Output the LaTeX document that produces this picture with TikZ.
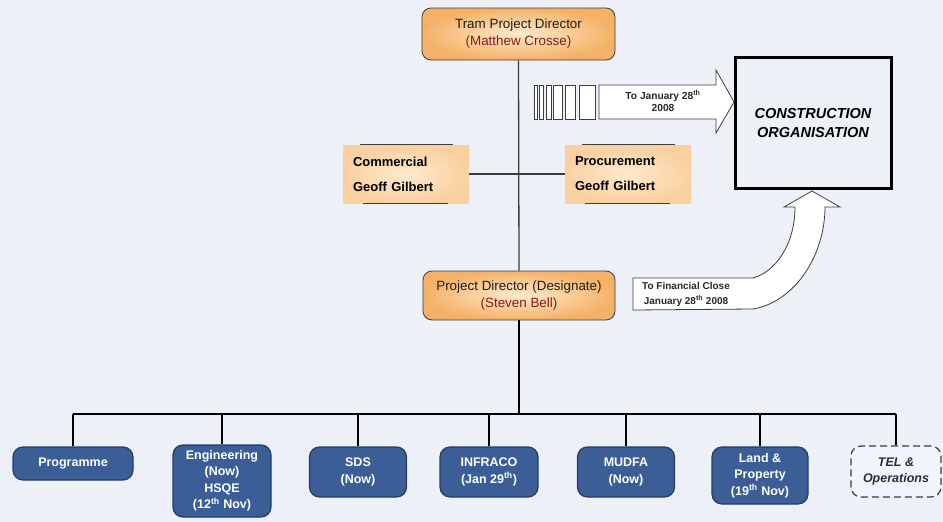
\documentclass[tikz,border=0pt]{standalone}
\usepackage{fontspec}
\setmainfont{Liberation Sans}
\definecolor{bgc}{RGB}{237,240,246}
\definecolor{orin}{RGB}{255,234,205}
\definecolor{orout}{RGB}{244,178,104}
\definecolor{orlight}{RGB}{250,208,160}
\definecolor{darkred}{RGB}{128,30,25}
\definecolor{bluefill}{RGB}{59,94,150}
\definecolor{bluedark}{RGB}{38,60,98}
\definecolor{telfill}{RGB}{242,245,251}
\definecolor{edgegray}{RGB}{60,60,60}
\tikzset{
  orangebox/.style={rounded corners=9pt, draw=edgegray, line width=0.8pt,
    inner color=orin, outer color=orout, align=center, inner sep=0pt,
    font=\fontsize{13.4}{17}\selectfont, text={rgb,255:red,30;green,30;blue,30}},
  sidebox/.style={inner color=orin, outer color=orlight, align=left,
    inner sep=0pt, text width=106pt, minimum width=126pt, minimum height=58pt,
    font=\bfseries\fontsize{13}{25}\selectfont},
  bluebox/.style={rounded corners=10pt, draw=bluedark, line width=1.2pt,
    fill=bluefill, text=white, align=center, inner sep=0pt,
    font=\bfseries\fontsize{12.5}{16.5}\selectfont},
  conn/.style={draw=black, line width=1.4pt},
  blockarrow/.style={fill=white, draw=edgegray, line width=0.8pt},
}
\begin{document}
\begin{tikzpicture}[x=1pt,y=-1pt]
\useasboundingbox (0,0) rectangle (943,522);
\fill[bgc] (0,0) rectangle (943,522);

% top boxes
\node[orangebox, minimum width=193pt, minimum height=52pt] (tram) at (518.5,34)
  {Tram Project Director\\\textcolor{darkred}{(Matthew Crosse)}};
\node[orangebox, minimum width=192pt, minimum height=49pt] (pd) at (519,295.5)
  {Project Director (Designate)\\\textcolor{darkred}{(Steven Bell)}};

\node[sidebox] (comm) at (406,174) {Commercial\\Geoff Gilbert};
\node[sidebox] (proc) at (628,174) {Procurement\\Geoff Gilbert};
\draw[edgegray, line width=1pt] ([xshift=17pt]comm.north west) -- ([xshift=-16pt]comm.north east);
\draw[edgegray, line width=1pt] ([xshift=20pt]comm.south west) -- ([xshift=-21pt]comm.south east);
\draw[edgegray, line width=1pt] ([xshift=17pt]proc.north west) -- ([xshift=-16pt]proc.north east);
\draw[edgegray, line width=1pt] ([xshift=20pt]proc.south west) -- ([xshift=-21pt]proc.south east);

% connectors upper
\draw[edgegray, line width=1.3pt] (tram.south) -- (pd.north);
\draw[edgegray, line width=1.3pt] (comm.east) -- (proc.west);

% construction organisation
\node[draw=black, line width=3pt, fill=bgc, minimum width=156pt, minimum height=131pt,
  align=center, font=\bfseries\itshape\fontsize{14.5}{19}\selectfont] (cons) at (813,123)
  {CONSTRUCTION\\ORGANISATION};

% striped boxes
\foreach \a/\b in {534/537.5, 539/543.5, 546/551.5, 553.5/562, 565.5/575, 579/595}
  \draw[edgegray, line width=0.8pt, fill=white] (\a,85) rectangle (\b,119);

% straight block arrow
\draw[blockarrow] (599,85) -- (716,85) -- (716,70) -- (734,102) -- (716,133) -- (716,119) -- (599,119) -- cycle;
\node[align=center, font=\bfseries\fontsize{10.2}{12.5}\selectfont, text={rgb,255:red,40;green,40;blue,40}] (janlbl) at (663,101)
  {To January 28\textsuperscript{th}\\2008};

% curved block arrow
\draw[blockarrow] (633,278) -- (753,278) .. controls (775,272) and (795,245) .. (795,207)
  -- (784,207) -- (812,191) -- (840,207) -- (825,207)
  .. controls (825,255) and (795,302) .. (753,309) -- (633,310) -- cycle;
\node[align=center, font=\bfseries\fontsize{10}{15}\selectfont, text={rgb,255:red,40;green,40;blue,40}] (finlbl) at (686,294.5)
  {To Financial Close\\January 28\textsuperscript{th} 2008};

% bottom boxes
\node[bluebox, minimum width=120pt, minimum height=33pt] (prog) at (73,463.5) {Programme};
\node[bluebox, minimum width=98pt, minimum height=72pt] (eng) at (222,481)
  {Engineering\\(Now)\\HSQE\\(12\textsuperscript{th} Nov)};
\node[bluebox, minimum width=97pt, minimum height=50pt] (sds) at (358,472) {SDS\\(Now)};
\node[bluebox, minimum width=98pt, minimum height=50pt] (infra) at (489,472) {INFRACO\\(Jan 29\textsuperscript{th})};
\node[bluebox, minimum width=97pt, minimum height=50pt] (mudfa) at (626,472) {MUDFA\\(Now)};
\node[bluebox, minimum width=96pt, minimum height=57pt] (land) at (760,475.5)
  {Land \&\\Property\\(19\textsuperscript{th} Nov)};
\node[rounded corners=10pt, draw=edgegray, dash pattern=on 7pt off 4pt, line width=1.2pt, fill=telfill,
  minimum width=90pt, minimum height=51pt, align=center, inner sep=0pt,
  font=\bfseries\itshape\fontsize{12.5}{16.5}\selectfont, text={rgb,255:red,40;green,45;blue,60}] (tel) at (896,471.5)
  {TEL \&\\Operations};

% bus
\coordinate (bus) at (519,414);
\draw[conn] (pd.south) -- (pd.south |- bus);
\draw[conn] (prog.north |- bus) -- (tel.north |- bus);
\foreach \n in {prog,eng,sds,infra,mudfa,land,tel}
  \draw[conn] (\n.north) -- (\n.north |- bus);
\end{tikzpicture}
\end{document}
